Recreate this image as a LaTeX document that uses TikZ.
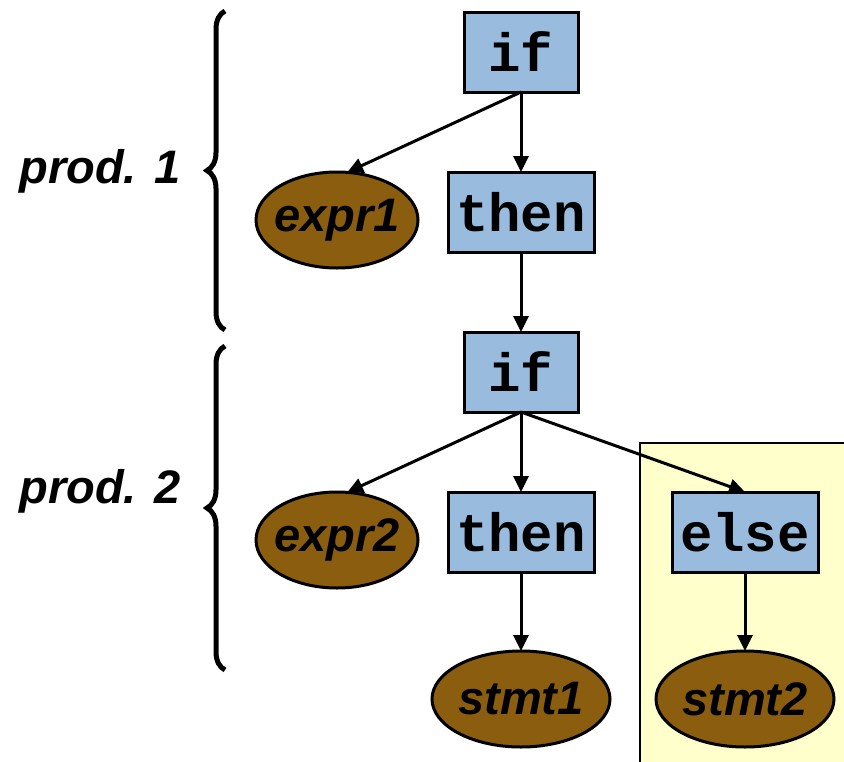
\documentclass[tikz,border=0pt]{standalone}
\usepackage{fontspec}
\setmainfont{Liberation Sans}
\setmonofont{Liberation Mono}
\usetikzlibrary{arrows.meta,decorations.pathreplacing,shapes.geometric}
\definecolor{boxblue}{RGB}{153,187,221}
\definecolor{nutbrown}{RGB}{139,94,15}
\definecolor{paleyellow}{RGB}{255,255,204}
\tikzset{
  kw/.style={draw=black, line width=3pt, fill=boxblue, inner sep=0pt, outer sep=0pt,
    minimum height=80pt, font=\fontsize{54}{54}\selectfont\ttfamily\bfseries},
  nt/.style={ellipse, draw=black, line width=3pt, fill=nutbrown, inner ysep=0pt, outer sep=0pt,
    minimum height=96pt, font=\fontsize{47}{47}\selectfont\bfseries\itshape},
  lab/.style={font=\fontsize{47}{47}\selectfont\bfseries\itshape, anchor=base},
  arr/.style={line width=3pt, -{Triangle[length=16pt,width=15pt]}},
  brc/.style={decorate, decoration={brace, amplitude=18pt}, line width=5pt}
}
\begin{document}
\begin{tikzpicture}[x=1pt,y=-1pt]
\clip (0,0) rectangle (844,761);
\useasboundingbox (0,0) rectangle (844,761);
\fill[white] (0,0) rectangle (844,761);
% yellow highlight
\draw[line width=2.5pt, fill=paleyellow] (640,443) rectangle (860,780);
% nodes
\node[kw, minimum width=114pt] (if1) at (521,52) {if};
\node[kw, minimum width=146pt] (then1) at (521,212) {then};
\node[nt, minimum width=162pt, inner xsep=-6pt] (expr1) at (337,220) {expr1};
\node[kw, minimum width=114pt] (if2) at (521,372) {if};
\node[kw, minimum width=146pt] (then2) at (521,532) {then};
\node[nt, minimum width=162pt, inner xsep=-6pt] (expr2) at (337,540) {expr2};
\node[kw, minimum width=146pt] (else) at (745,532) {else};
\node[nt, minimum width=178pt, inner xsep=0pt] (stmt1) at (521,699) {stmt1};
\node[nt, minimum width=178pt, inner xsep=0pt] (stmt2) at (745,699) {stmt2};
% connectors
\draw[arr] (if1.south) -- (expr1.78);
\draw[arr] (if1.south) -- (then1.north);
\draw[arr] (then1.south) -- (if2.north);
\draw[arr] (if2.south) -- (expr2.78);
\draw[arr] (if2.south) -- (then2.north);
\draw[arr] (if2.south) -- (else.north);
\draw[arr] (then2.south) -- (stmt1.north);
\draw[arr] (else.south) -- (stmt2.north);
% braces
\coordinate (b1a) at (225,330);
\coordinate (b1b) at (225,11);
\coordinate (b2a) at (225,670);
\coordinate (b2b) at (225,346);
\draw[brc] (b1a) -- (b1b);
\draw[brc] (b2a) -- (b2b);
\node[lab] (p1) at (100,183) {prod. 1};
\node[lab] (p2) at (100,503) {prod. 2};
\end{tikzpicture}
\end{document}
